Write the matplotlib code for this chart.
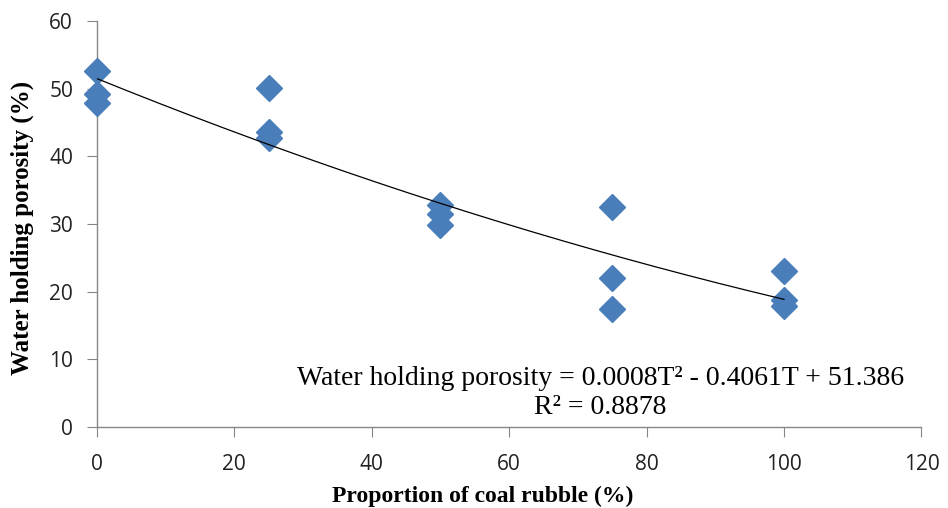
import numpy as np
import matplotlib.pyplot as plt

# Data
coal_rubble = [0, 0, 0, 25, 25, 25, 50, 50, 50, 75, 75, 75, 100, 100, 100]
porosity = [52.6, 49.2, 47.9, 50.1, 43.6, 42.7, 32.8, 31.5, 29.8,
            32.5, 22.0, 17.4, 23.0, 18.8, 17.9]
x_ticks = [0, 20, 40, 60, 80, 100, 120]
y_ticks = [0, 10, 20, 30, 40, 50, 60]

# Second order trendline fitted to the points
coef = np.polyfit(coal_rubble, porosity, 2)
t = np.linspace(0, 100, 200)
fit = np.polyval(coef, t)

fig = plt.figure(figsize=(9.48, 5.08), dpi=100)
ax = fig.add_axes([0.102, 0.159, 0.870, 0.800])

ax.plot(coal_rubble, porosity, linestyle='none', marker='D', markersize=13,
        color='#4A7EBB', markeredgecolor='#4A7EBB', clip_on=False, zorder=3)
ax.plot(t, fit, color='black', linewidth=0.9, zorder=4)

ax.set_xlim(0, 120)
ax.set_ylim(0, 60)
ax.set_xticks(x_ticks)
ax.set_yticks(y_ticks)

for side in ['top', 'right']:
    ax.spines[side].set_visible(False)
for side in ['left', 'bottom']:
    ax.spines[side].set_color('#868686')
    ax.spines[side].set_linewidth(1.0)

ax.tick_params(axis='both', direction='out', length=7, color='#868686',
               labelsize=15, labelcolor='#222222')
ax.tick_params(axis='x', pad=12)
ax.tick_params(axis='y', pad=10)
for lab in ax.get_xticklabels() + ax.get_yticklabels():
    lab.set_family('Open Sans')

ax.set_xlabel('Proportion of coal rubble (%)', family='Liberation Serif',
              fontweight='bold', fontsize=17)
ax.xaxis.set_label_coords(0.468, -0.143)
ax.set_ylabel('Water holding porosity (%)', family='Liberation Serif',
              fontweight='bold', fontsize=18)
ax.yaxis.set_label_coords(-0.076, 0.49)

ax.text(73.3, 7.2, 'Water holding porosity = 0.0008T² - 0.4061T + 51.386',
        family='Liberation Serif', fontsize=20, ha='center', va='center')
ax.text(73.3, 2.9, 'R² = 0.8878', family='Liberation Serif', fontsize=20,
        ha='center', va='center')

fig.savefig('out.png', dpi=100)
